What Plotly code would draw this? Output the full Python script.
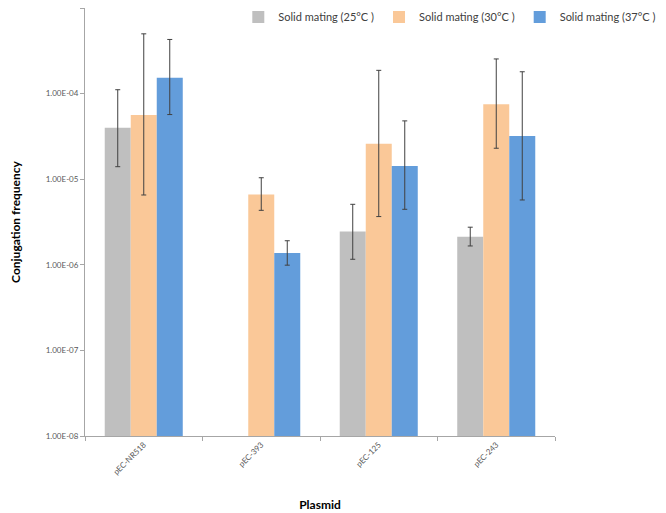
import plotly.graph_objects as go

# plasmids on the x axis
plasmids = ['pEC-NR518', 'pEC-393', 'pEC-125', 'pEC-243']

# mean conjugation frequency per temperature (None = no bar)
freq_25 = [3.98e-5, None, 2.45e-6, 2.13e-6]
freq_30 = [5.63e-5, 6.64e-6, 2.59e-5, 7.50e-5]
freq_37 = [1.53e-4, 1.37e-6, 1.43e-5, 3.19e-5]

# upper / lower ends of the error bars
hi_25 = [1.11e-4, None, 5.09e-6, 2.75e-6]
lo_25 = [1.40e-5, None, 1.16e-6, 1.66e-6]
hi_30 = [4.99e-4, 1.04e-5, 1.87e-4, 2.54e-4]
lo_30 = [6.54e-6, 4.33e-6, 3.66e-6, 2.30e-5]
hi_37 = [4.29e-4, 1.91e-6, 4.80e-5, 1.80e-4]
lo_37 = [5.69e-5, 9.90e-7, 4.45e-6, 5.72e-6]

tick_vals = [1e-8, 1e-7, 1e-6, 1e-5, 1e-4, 1e-3]
tick_text = ['1.00E-08', '1.00E-07', '1.00E-06', '1.00E-05', '1.00E-04', '1.00E-03']

series = [
    ('Solid mating (25°C )', freq_25, hi_25, lo_25, '#BFBFBF'),
    ('Solid mating (30°C )', freq_30, hi_30, lo_30, '#FAC898'),
    ('Solid mating (37°C )', freq_37, hi_37, lo_37, '#639DDB'),
]


def spread(vals, hi, lo):
    plus, minus = [], []
    for v, h, l in zip(vals, hi, lo):
        if v is None:
            plus.append(None)
            minus.append(None)
        else:
            plus.append(h - v)
            minus.append(v - l)
    return plus, minus


fig = go.Figure()
for name, vals, hi, lo, color in series:
    plus, minus = spread(vals, hi, lo)
    fig.add_trace(go.Bar(
        x=plasmids, y=vals, name=name, marker_color=color,
        marker_line_width=0,
        error_y=dict(type='data', symmetric=False, array=plus, arrayminus=minus,
                     color='#404040', thickness=1, width=2.5),
    ))

# the page body adds an 8px margin, so the figure is sized to fit the window
fig.update_layout(
    width=658, height=505,
    margin=dict(l=77, r=111, t=0, b=77, autoexpand=False),
    paper_bgcolor='white', plot_bgcolor='white',
    barmode='group', bargap=0.336, bargroupgap=0,
    font=dict(family='Lato, Open Sans, sans-serif', color='#404040'),
    legend=dict(orientation='h', xref='container', yref='container',
                x=0.35, xanchor='left', y=0.982, yanchor='middle',
                font=dict(size=11, color='#404040'), itemwidth=30,
                bgcolor='rgba(0,0,0,0)'),
    showlegend=True,
)

fig.update_yaxes(
    type='log', range=[-8, -3],
    tickvals=tick_vals, ticktext=tick_text,
    tickfont=dict(size=8, color='#595959'),
    showgrid=False, zeroline=False,
    showline=True, linecolor='#A6A6A6', linewidth=1,
    ticks='outside', ticklen=4, tickcolor='#A6A6A6',
    title=dict(text='<b>Conjugation frequency</b>', font=dict(size=12, color='#000000'), standoff=28),
)
fig.update_xaxes(
    tickangle=-45, tickfont=dict(size=8, color='#595959'),
    showgrid=False, showline=True, linecolor='#A6A6A6', linewidth=1,
    ticks='outside', ticklen=4, tickcolor='#A6A6A6', tickson='boundaries',
    title=dict(text='<b>Plasmid</b>', font=dict(size=12, color='#000000'), standoff=24),
)

fig.write_html("out.html")
